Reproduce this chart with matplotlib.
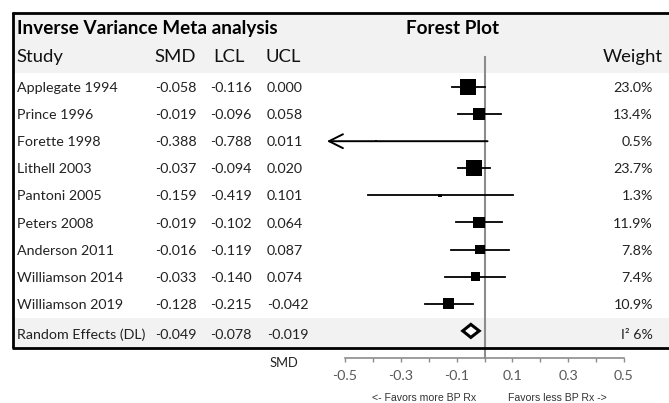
import matplotlib
matplotlib.use('Agg')
import matplotlib.pyplot as plt
import numpy as np
from matplotlib.patches import Rectangle, Polygon
from matplotlib.transforms import blended_transform_factory

# data
studies = ['Applegate 1994', 'Prince 1996', 'Forette 1998', 'Lithell 2003',
           'Pantoni 2005', 'Peters 2008', 'Anderson 2011', 'Williamson 2014',
           'Williamson 2019']
smd = [-0.058, -0.019, -0.388, -0.037, -0.159, -0.019, -0.016, -0.033, -0.128]
lcl = [-0.116, -0.096, -0.788, -0.094, -0.419, -0.102, -0.119, -0.140, -0.215]
ucl = [0.000, 0.058, 0.011, 0.020, 0.101, 0.064, 0.087, 0.074, -0.042]
weights = [23.0, 13.4, 0.5, 23.7, 1.3, 11.9, 7.8, 7.4, 10.9]

pooled_label = 'Random Effects (DL)'
pooled = [-0.049, -0.078, -0.019]
i2 = 6

xticks = [-0.5, -0.4, -0.3, -0.2, -0.1, 0.0, 0.1, 0.2, 0.3, 0.4, 0.5]
xticklabels = ['-0.5', '', '-0.3', '', '-0.1', '', '0.1', '', '0.3', '', '0.5']

FONT = 'Lato'
GREY_BG = '#f2f2f2'

W, H = 669, 403
x0_px, px_per_unit = 484.5, 279.0   # pixel of SMD = 0, pixels per unit
row0_px, row_px = 87.0, 27.1        # pixel of first row, pixels per row
clip = -0.565                       # left edge of the plot area


def ypx(p):
    return (p - row0_px) / row_px


fig = plt.figure(figsize=(W / 100, H / 100), dpi=100)
ax = fig.add_axes([0, 0, 1, 1])
ax.set_xlim(-x0_px / px_per_unit, (W - x0_px) / px_per_unit)
ax.set_ylim(ypx(H), ypx(0))
ax.axis('off')

# x in figure pixels (as axes fraction), y in rows
tr = blended_transform_factory(ax.transAxes, ax.transData)


def fx(p):
    return p / W


# backgrounds
ax.add_patch(Rectangle((fx(12), ypx(12)), 1, ypx(73) - ypx(12), transform=tr,
                       facecolor=GREY_BG, edgecolor='none', zorder=0))
n = len(studies)
ax.add_patch(Rectangle((fx(12), ypx(318)), 1, ypx(348) - ypx(318), transform=tr,
                       facecolor=GREY_BG, edgecolor='none', zorder=0))

# frame
ax.plot([fx(13), fx(13)], [ypx(12), ypx(348)], transform=tr, color='black', lw=2, solid_capstyle='butt')
ax.plot([fx(12), 1], [ypx(13), ypx(13)], transform=tr, color='black', lw=2, solid_capstyle='butt')
ax.plot([fx(12), 1], [ypx(348), ypx(348)], transform=tr, color='black', lw=2, solid_capstyle='butt')

# header
ax.text(fx(17), ypx(29), 'Inverse Variance Meta analysis', transform=tr, fontsize=13.6,
        fontweight='bold', family=FONT, va='center', ha='left')
ax.text(fx(453), ypx(29), 'Forest Plot', transform=tr, fontsize=13.6,
        fontweight='bold', family=FONT, va='center', ha='center')
hdr = dict(transform=tr, fontsize=13.3, family=FONT, va='center', color='#111111')
ax.text(fx(16), ypx(57), 'Study', ha='left', **hdr)
ax.text(fx(175), ypx(57), 'SMD', ha='center', **hdr)
ax.text(fx(229), ypx(57), 'LCL', ha='center', **hdr)
ax.text(fx(283.5), ypx(57), 'UCL', ha='center', **hdr)
ax.text(fx(663), ypx(57), 'Weight', ha='right', **hdr)

# table rows
rowfont = dict(transform=tr, fontsize=10.3, family=FONT, va='center', color='#222222')
for i in range(n):
    ax.text(fx(17), i + 0.04, studies[i], ha='left', **rowfont)
    ax.text(fx(155), i + 0.04, f'{smd[i]:.3f}', ha='left', **rowfont)
    ax.text(fx(210), i + 0.04, f'{lcl[i]:.3f}', ha='left', **rowfont)
    ax.text(fx(267), i + 0.04, f'{ucl[i]:.3f}', ha='left', **rowfont)
    ax.text(fx(653), i + 0.04, f'{weights[i]:.1f}%', ha='right', **rowfont)

ax.text(fx(17), n + 0.15, pooled_label, ha='left', **rowfont)
ax.text(fx(155), n + 0.15, f'{pooled[0]:.3f}', ha='left', **rowfont)
ax.text(fx(210), n + 0.15, f'{pooled[1]:.3f}', ha='left', **rowfont)
ax.text(fx(267), n + 0.15, f'{pooled[2]:.3f}', ha='left', **rowfont)
ax.text(fx(653), n + 0.15, f'I\u00b2 {i2}%', ha='right', **rowfont)

# zero line
ax.plot([0, 0], [ypx(57), ypx(358)], color='#8c8c8c', lw=1.5, zorder=1)

# confidence intervals
for i in range(n):
    if lcl[i] < clip:
        ax.annotate('', xy=(clip, i), xytext=(ucl[i], i),
                    arrowprops=dict(arrowstyle='->,head_length=1.0,head_width=0.5',
                                    color='black', lw=1.4, shrinkA=0, shrinkB=0))
    else:
        ax.plot([lcl[i], ucl[i]], [i, i], color='black', lw=1.3, zorder=2)

ax.scatter(smd, range(n), s=[w * 5.75 for w in weights], marker='s',
           color='black', linewidths=0, zorder=3)

# pooled diamond
dh = 0.24
ax.add_patch(Polygon([(pooled[1], n), (pooled[0], n - dh), (pooled[2], n), (pooled[0], n + dh)],
                     closed=True, facecolor='white', edgecolor='black', lw=2.2, zorder=3))

# x axis
axx = fig.add_axes([(x0_px - 0.5 * px_per_unit) / W, (H - 358) / H, px_per_unit / W, 0.001])
axx.set_xlim(-0.5, 0.5)
axx.patch.set_visible(False)
for s in ['top', 'left', 'right']:
    axx.spines[s].set_visible(False)
axx.spines['bottom'].set_color('#8c8c8c')
axx.spines['bottom'].set_linewidth(1.2)
axx.set_yticks([])
axx.set_xticks(xticks)
axx.set_xticklabels(xticklabels, family=FONT, fontsize=10.3, color='#595959')
axx.tick_params(axis='x', length=3, width=1, color='#8c8c8c', pad=6)

fig.text(284 / W, 1 - 363 / H, 'SMD', family=FONT, fontsize=9.3, ha='center', va='center', color='#222222')
fig.text(424 / W, 1 - 398 / H, '<- Favors more BP Rx', family='Liberation Sans', fontsize=7.6,
         ha='center', va='center', color='#333333')
fig.text(557 / W, 1 - 398 / H, 'Favors less BP Rx ->', family='Liberation Sans', fontsize=7.6,
         ha='center', va='center', color='#333333')

fig.savefig('out.png', dpi=100)
